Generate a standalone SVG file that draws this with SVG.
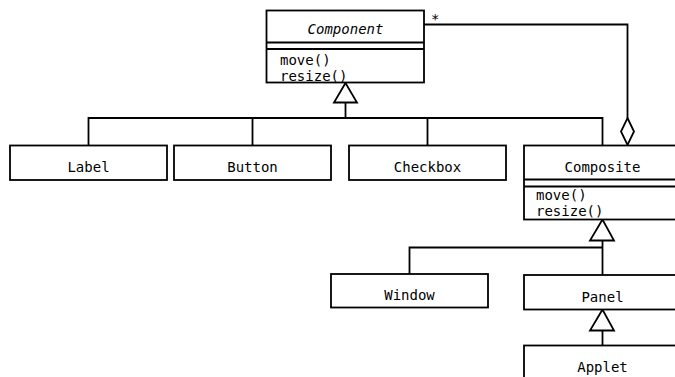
<svg xmlns="http://www.w3.org/2000/svg" width="675" height="377" viewBox="0 0 675 377">
<style>
.box{fill:#fff;stroke:#000;stroke-width:1.8}
.ln{fill:none;stroke:#000;stroke-width:1.8}
.tri{fill:#fff;stroke:#000;stroke-width:1.8}
text{font-family:"DejaVu Sans Mono","Liberation Mono",monospace;font-size:14px;fill:#000}
.c{text-anchor:middle}
</style>
<rect width="675" height="377" fill="#fff"/>
<g id="connectors">
<polyline class="ln" points="88.5,145 88.5,118 602.5,118 602.5,145"/>
<line class="ln" x1="252.5" y1="118" x2="252.5" y2="145"/>
<line class="ln" x1="427.5" y1="118" x2="427.5" y2="145"/>
<line class="ln" x1="345.5" y1="102" x2="345.5" y2="118"/>
<polygon class="tri" points="345.5,83 334,102.5 357,102.5"/>
<polyline class="ln" points="424,24.5 627.5,24.5 627.5,118"/>
<polygon class="tri" points="627.5,118 634,131.5 627.5,145 621,131.5"/>
<text x="431" y="24" font-size="12">*</text>
<polyline class="ln" points="409.5,274 409.5,247.5 602.5,247.5"/>
<line class="ln" x1="602.5" y1="240" x2="602.5" y2="275"/>
<polygon class="tri" points="602.5,219.5 590,240.5 614,240.5"/>
<line class="ln" x1="602.5" y1="330" x2="602.5" y2="345"/>
<polygon class="tri" points="602.5,309.5 590,330.5 614,330.5"/>
</g>
<g id="component">
<rect class="box" x="266.5" y="10.5" width="157.5" height="72"/>
<line class="ln" x1="266.5" y1="42.5" x2="424" y2="42.5"/>
<line class="ln" x1="266.5" y1="49" x2="424" y2="49"/>
<text class="c" x="345.5" y="34" font-style="italic">Component</text>
<text x="280" y="64.5">move()</text>
<text x="280" y="80.5">resize()</text>
</g>
<g id="label">
<rect class="box" x="10" y="145.5" width="157" height="34.5"/>
<text class="c" x="88.5" y="171.5">Label</text>
</g>
<g id="button">
<rect class="box" x="174" y="145.5" width="157" height="34.5"/>
<text class="c" x="252.5" y="171.5">Button</text>
</g>
<g id="checkbox">
<rect class="box" x="349" y="145.5" width="157" height="34.5"/>
<text class="c" x="427.5" y="171.5">Checkbox</text>
</g>
<g id="composite">
<rect class="box" x="524" y="145.5" width="157" height="74"/>
<line class="ln" x1="524" y1="179.5" x2="681" y2="179.5"/>
<line class="ln" x1="524" y1="186.5" x2="681" y2="186.5"/>
<text class="c" x="602.5" y="171.5">Composite</text>
<text x="536" y="200" font-size="13.5">move()</text>
<text x="536" y="215.5" font-size="13.5">resize()</text>
</g>
<g id="window">
<rect class="box" x="331" y="274" width="157" height="33.5"/>
<text class="c" x="409.5" y="300">Window</text>
</g>
<g id="panel">
<rect class="box" x="524" y="275" width="157" height="34.5"/>
<text class="c" x="602.5" y="301.5">Panel</text>
</g>
<g id="applet">
<rect class="box" x="524" y="345.5" width="157" height="40"/>
<text class="c" x="602.5" y="371.5">Applet</text>
</g>
</svg>
